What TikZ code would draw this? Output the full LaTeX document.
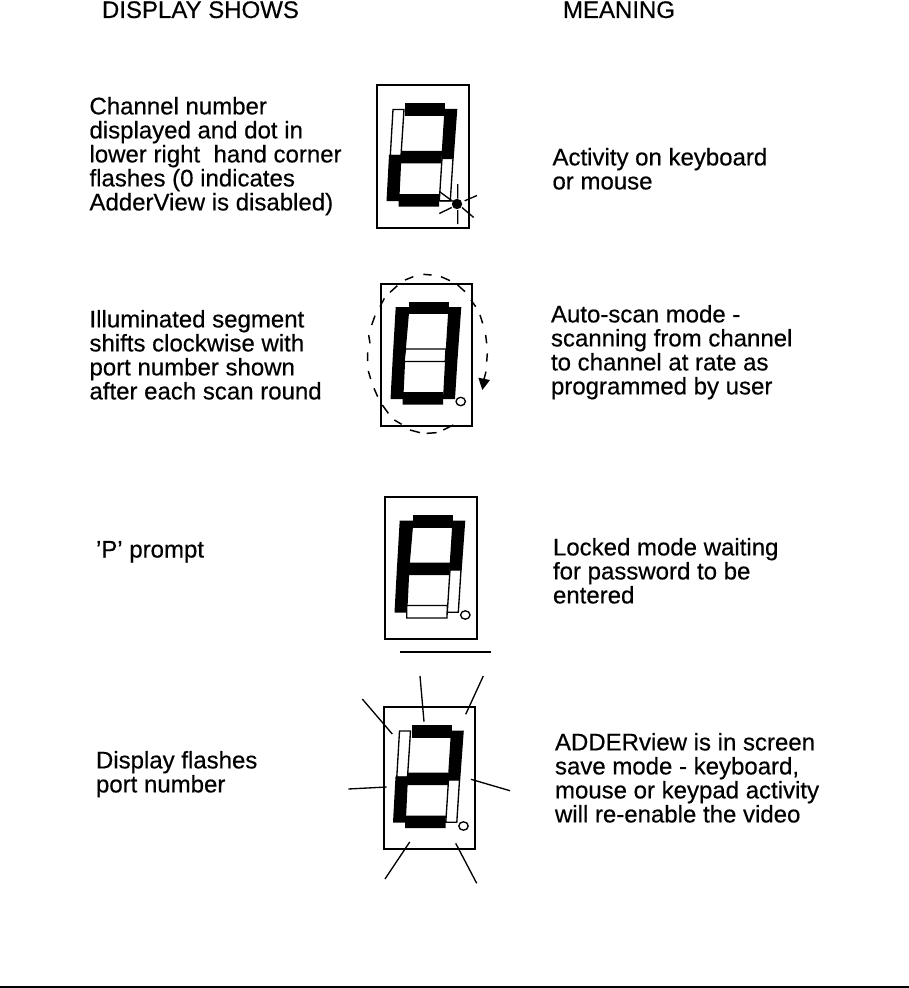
\documentclass[tikz,border=0pt]{standalone}
\usepackage{fontspec}
\setmainfont[FakeBold=0.4]{Liberation Sans}
\newcommand{\segTop}{(28,18) -- (68,18) -- (68,30.5) -- (28,30.5) -- cycle}
\newcommand{\segUL}{(14.7,23.5) -- (28.5,23.5) -- (24.5,70) -- (12,70) -- cycle}
\newcommand{\segUR}{(67.5,23.5) -- (80.3,23.5) -- (76.7,73) -- (64.3,73) -- cycle}
\newcommand{\segMid}{(24.5,65.5) -- (65,65.5) -- (64.3,78) -- (23,78) -- cycle}
\newcommand{\segLL}{(12,69.5) -- (24.5,69.5) -- (22.3,115.5) -- (9.5,115.5) -- cycle}
\newcommand{\segLR}{(64.3,72.5) -- (76.7,72.5) -- (74,115.5) -- (62,115.5) -- cycle}
\newcommand{\segBot}{(21.7,108.5) -- (62.3,108.5) -- (62,121) -- (21.7,121) -- cycle}
\newcommand{\segULw}{(16,24) -- (27,24) -- (24,70) -- (13.3,70) -- cycle}
\newcommand{\segLRw}{(65,73) -- (76,73) -- (73.3,115.3) -- (62.3,115.3) -- cycle}
\tikzset{
  px/.style={x=0.75pt,y=-0.75pt},
  on/.style={fill=black,draw=none},
  off/.style={fill=white,draw=black,line width=1pt},
  frame/.style={draw=black,line width=1.5pt,fill=white},
  ray/.style={draw=black,line width=1pt},
  lbl/.style={anchor=base west,inner sep=0pt,outer sep=0pt,align=left,font=\fontsize{18}{18}\selectfont,text=black},
  ledoff/.style={draw=black,line width=1pt,fill=white}
}
\begin{document}
\begin{tikzpicture}[px]
\useasboundingbox (0,0) rectangle (909,988);
\node[lbl] (h1) at (102,18) {DISPLAY SHOWS};
\node[lbl] (h2) at (563,18) {MEANING};
% Display 1
\begin{scope}[shift={(377,85.5)}]
  \draw[frame] (0,0) rectangle (92,142);
  \draw[off] \segULw; \draw[off] \segLRw;
  \fill[on] \segTop; \fill[on] \segUR; \fill[on] \segLL; \fill[on] \segMid; \fill[on] \segBot;
  \draw[ray] (62.3,106) -- (75,115.3) (62.3,115.5) -- (76,115.5);
  \fill (80,118.5) circle (5.2);
  \draw[ray] (80.7,98.7) -- (80.7,113) (80.7,124.7) -- (80.7,138.7)
    (87.7,115.3) -- (100,110) (62.3,128) -- (74.7,122) (85,122) -- (96.7,132);
\end{scope}
\node[lbl,anchor=north west] (t1) at (89.5,97) {Channel number\\displayed and dot in\\lower right\ \ hand corner\\flashes (0 indicates\\AdderView is disabled)};
\node[lbl,anchor=north west] (m1) at (552.5,148) {Activity on keyboard\\or mouse};
% Display 2
\begin{scope}[shift={(381,283.5)}]
  \draw[frame] (0,0) rectangle (91,142);
  \fill[on] \segTop; \fill[on] \segUR; \fill[on] \segLL; \fill[on] \segUL; \fill[on] \segLR; \fill[on] \segBot;
  \draw[off] \segMid;
  \draw[ledoff] (79.7,118) ellipse (4.7 and 4.2);
\end{scope}
\begin{scope}[shift={(355,265)},x=0.25pt,y=-0.25pt]
  \draw[ray,line width=1.1pt]
    (265,495) -- (295,480) (215,505) -- (245,503) (165,495) -- (195,503)
    (118,465) -- (140,478) (82,420) -- (100,445) (57,370) -- (68,395)
    (40,318) -- (47,342) (38,262) -- (38,288) (41,210) -- (45,235) (60,152) -- (50,180)
    (75,125) -- (88,100) (105,82) -- (127,62) (150,45) -- (175,35)
    (205,28) -- (230,30) (258,35) -- (285,47) (308,60) -- (330,80)
    (348,105) -- (362,125) (375,150) -- (383,175) (392,210) -- (395,235)
    (397,265) -- (395,290) (393,320) -- (385,350);
  \fill (370,338) -- (405,345) -- (382,375) -- cycle;
\end{scope}
\node[lbl,anchor=north west] (t2) at (89.5,310) {Illuminated segment\\shifts clockwise with\\port number shown\\after each scan round};
\node[lbl,anchor=north west] (m2) at (551,305) {Auto-scan mode -\\scanning from channel\\to channel at rate as\\programmed by user};
% Display 3
\begin{scope}[shift={(385,497)}]
  \draw[frame] (0,0) rectangle (92,142);
  \draw[off] \segLRw;
  \fill[on] \segTop; \fill[on] \segUR; \fill[on] \segLL; \fill[on] \segUL; \fill[on] \segMid;
  \draw[off] \segBot;
  \draw[ledoff] (80.3,118) ellipse (4.7 and 4.2);
\end{scope}
\draw[ray,line width=1.5pt] (400,652.3) -- (491,652.3);
\node[lbl,anchor=north west] (t3) at (96,541) {'P' prompt};
\node[lbl,anchor=north west] (m3) at (553,538) {Locked mode waiting\\for password to be\\entered};
% Display 4
\begin{scope}[shift={(383.5,707)}]
  \draw[frame] (0,0) rectangle (91,142);
  \draw[off] \segULw; \draw[off] \segLRw;
  \fill[on] \segTop; \fill[on] \segUR; \fill[on] \segLL; \fill[on] \segMid; \fill[on] \segBot;
  \draw[ledoff] (80,119) ellipse (4.7 and 4.2);
\end{scope}
\coordinate (r1a) at (362.3,699); \coordinate (r1b) at (392.3,734);
\coordinate (r2a) at (420,676); \coordinate (r2b) at (424,721.7);
\coordinate (r3a) at (483.3,676); \coordinate (r3b) at (465.7,714.3);
\coordinate (r4a) at (348.3,789); \coordinate (r4b) at (386.7,787);
\coordinate (r5a) at (471,779.3); \coordinate (r5b) at (510,790.7);
\coordinate (r6a) at (409.7,842); \coordinate (r6b) at (385,879);
\coordinate (r7a) at (455.7,843.3); \coordinate (r7b) at (476.7,883.3);
\foreach \i in {1,...,7} \draw[ray] (r\i a) -- (r\i b);
\node[lbl,anchor=north west] (t4) at (96,751) {Display flashes\\port number};
\node[lbl,anchor=north west] (m4) at (555,733) {ADDERview is in screen\\save mode - keyboard,\\mouse or keypad activity\\will re-enable the video};
\coordinate (b1) at (0,987.2); \coordinate (b2) at (909,987.2);
\draw[line width=1.2pt] (b1) -- (b2);
\end{tikzpicture}
\end{document}
